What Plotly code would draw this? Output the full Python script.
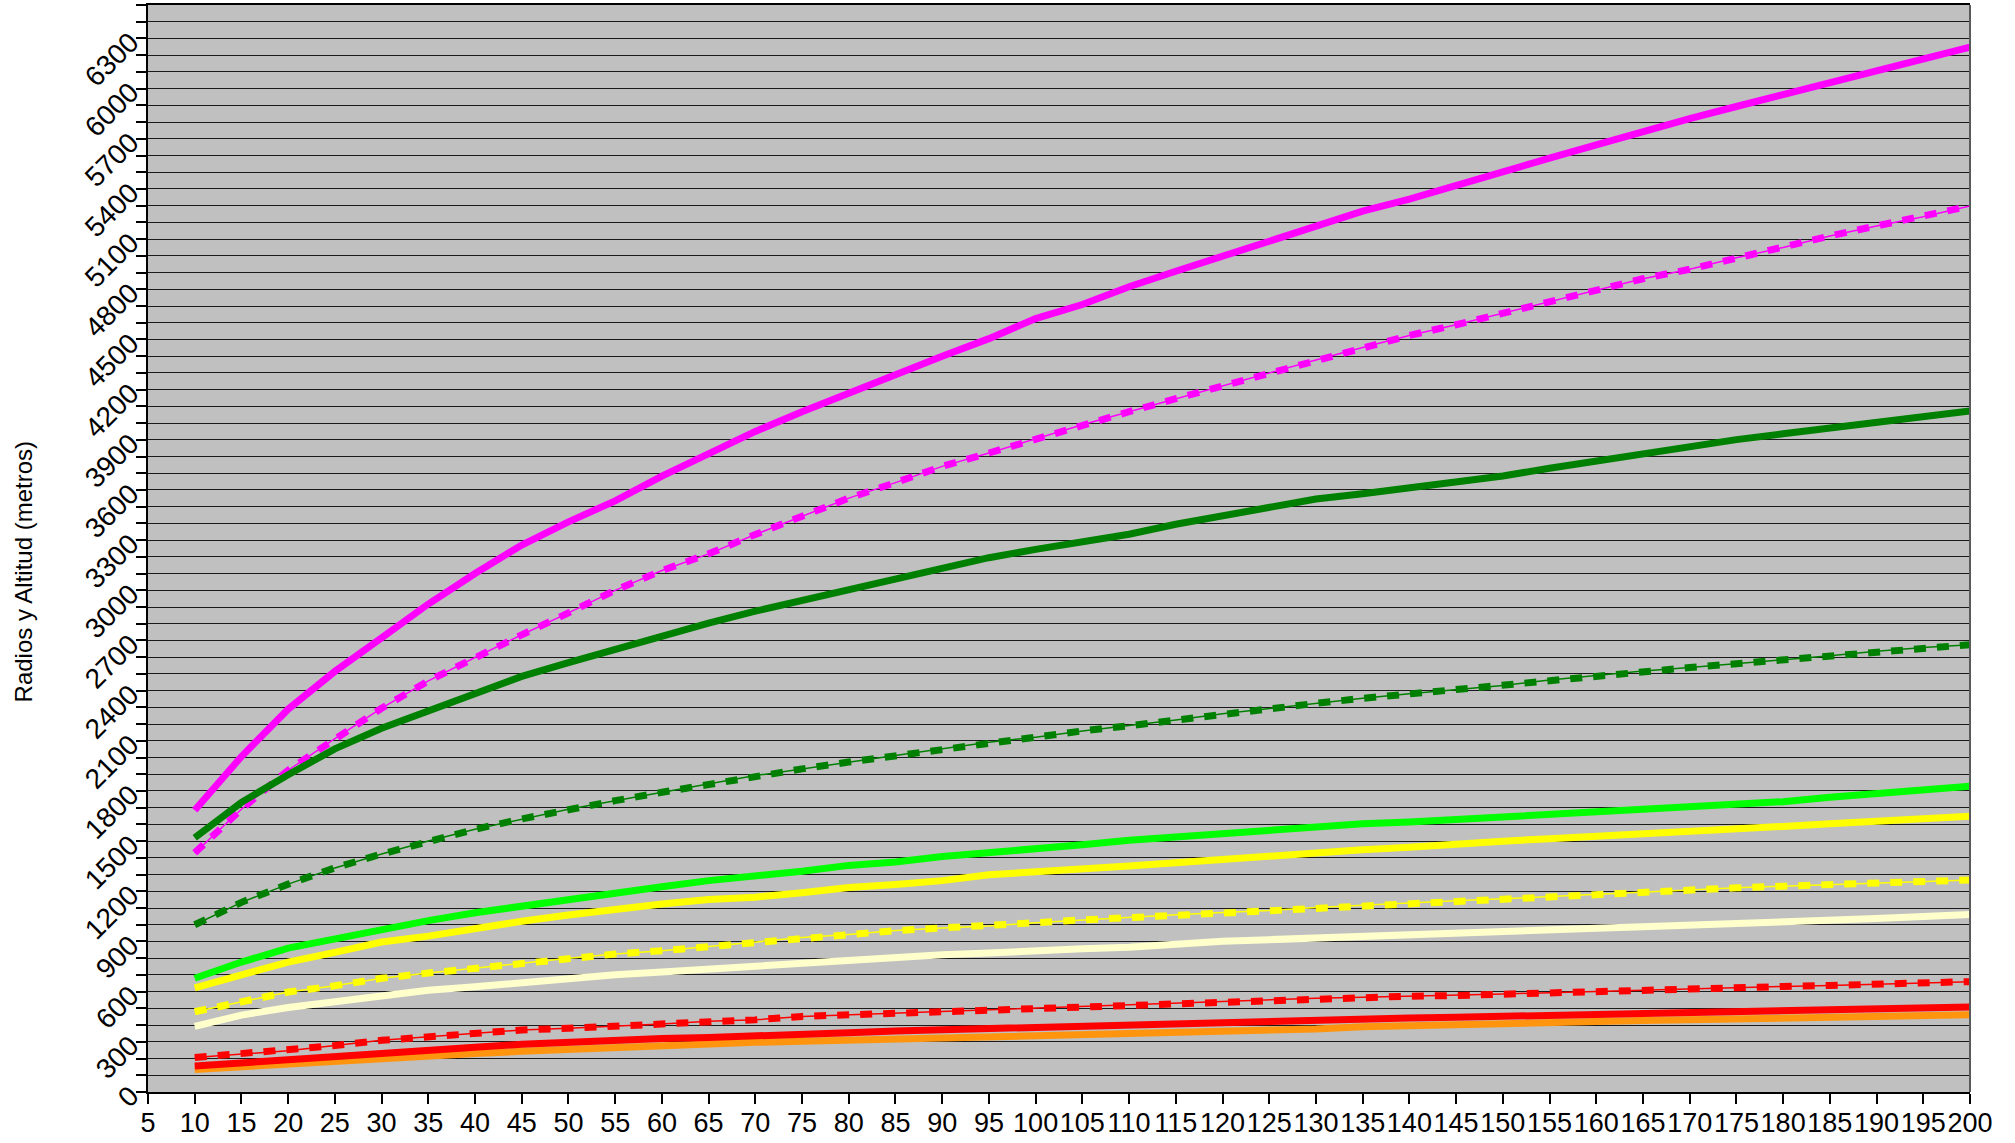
import plotly.graph_objects as go

x_vals = list(range(10, 205, 5))

magenta_solid = [1685, 2006, 2289, 2515, 2715, 2918, 3100, 3271, 3409, 3535, 3683, 3821, 3950, 4068, 4180,
                 4295, 4400, 4505, 4625, 4709, 4815, 4908, 4998, 5089, 5176, 5267, 5339, 5424, 5504, 5584,
                 5664, 5744, 5820, 5893, 5966, 6035, 6104, 6179, 6248]
magenta_dashed = [1430, 1691, 1924, 2113, 2295, 2458, 2598, 2734, 2865, 3000, 3118, 3218, 3334, 3443, 3551,
                  3644, 3741, 3821, 3906, 3990, 4068, 4146, 4222, 4299, 4377, 4452, 4524, 4588, 4656, 4725,
                  4794, 4863, 4920, 4989, 5050, 5119, 5179, 5234, 5298]
dkgreen_solid = [1520, 1732, 1897, 2052, 2175, 2278, 2392, 2485, 2567, 2649, 2722, 2804, 2875, 2940, 3006,
                 3070, 3132, 3195, 3245, 3285, 3335, 3395, 3447, 3500, 3546, 3578, 3610, 3645, 3684, 3730,
                 3775, 3821, 3860, 3901, 3936, 3970, 4004, 4038, 4073]
dkgreen_dashed = [1000, 1134, 1243, 1340, 1423, 1501, 1571, 1633, 1691, 1742, 1792, 1841, 1892, 1932, 1973,
                  2010, 2052, 2091, 2122, 2159, 2190, 2225, 2262, 2293, 2324, 2354, 2381, 2406, 2431, 2464,
                  2491, 2518, 2538, 2561, 2584, 2608, 2635, 2658, 2675]
lime_solid = [680, 777, 860, 918, 975, 1025, 1072, 1113, 1155, 1190, 1227, 1264, 1290, 1320, 1355,
              1375, 1408, 1429, 1454, 1478, 1505, 1526, 1542, 1561, 1581, 1604, 1614, 1629, 1643, 1660,
              1674, 1687, 1701, 1718, 1736, 1763, 1784, 1804, 1829]
yellow_solid = [623, 701, 777, 835, 897, 932, 979, 1021, 1058, 1093, 1124, 1151, 1165, 1192, 1223,
                1241, 1264, 1299, 1313, 1334, 1351, 1371, 1392, 1412, 1433, 1448, 1464, 1485, 1499, 1515,
                1528, 1542, 1557, 1571, 1588, 1604, 1619, 1635, 1649]
yellow_dashed = [480, 540, 598, 635, 680, 711, 742, 773, 800, 825, 845, 870, 899, 924, 942,
                 965, 981, 992, 1012, 1029, 1043, 1060, 1074, 1085, 1103, 1118, 1130, 1144, 1155, 1169,
                 1181, 1196, 1210, 1221, 1231, 1241, 1252, 1260, 1268]
cream_solid = [392, 460, 505, 542, 577, 608, 629, 656, 680, 701, 718, 736, 750, 773, 784,
               804, 821, 831, 839, 856, 866, 887, 901, 911, 922, 932, 942, 953, 963, 971,
               979, 988, 996, 1006, 1016, 1027, 1037, 1049, 1062]
red_dashed = [206, 227, 247, 278, 309, 330, 351, 371, 381, 392, 406, 423, 432, 452, 462,
              472, 480, 489, 501, 509, 520, 530, 540, 551, 561, 567, 573, 577, 586, 594,
              602, 610, 619, 625, 631, 637, 645, 654, 660]
red_solid = [155, 175, 196, 216, 233, 247, 268, 285, 299, 309, 320, 326, 333, 344, 355,
             365, 373, 381, 386, 392, 398, 406, 414, 421, 429, 437, 443, 447, 452, 458,
             464, 472, 480, 485, 489, 495, 499, 505, 509]
orange_solid = [135, 152, 170, 186, 200, 215, 230, 243, 255, 265, 276, 287, 297, 303, 309,
                317, 324, 330, 336, 342, 348, 356, 363, 370, 377, 390, 398, 402, 408, 414,
                421, 427, 431, 435, 439, 445, 449, 456, 462]

y_title = "Radios y Altitud (metros)"

FONT = "Liberation Sans, Arial, sans-serif"

fig = go.Figure()

def solid(y, color):
    fig.add_trace(go.Scatter(x=x_vals, y=y, mode="lines",
                             line=dict(color=color, width=7), hoverinfo="skip"))

def dashed(y, color):
    fig.add_trace(go.Scatter(x=x_vals, y=y, mode="lines",
                             line=dict(color=color, width=1.5), hoverinfo="skip"))
    fig.add_trace(go.Scatter(x=x_vals, y=y, mode="lines",
                             line=dict(color=color, width=7, dash="12px,11px"), hoverinfo="skip"))

solid(orange_solid, "#FF950E")
solid(red_solid, "#FF0000")
dashed(red_dashed, "#FF0000")
solid(cream_solid, "#FFFFCC")
dashed(yellow_dashed, "#FFFF00")
solid(yellow_solid, "#FFFF00")
solid(lime_solid, "#00FF00")
dashed(dkgreen_dashed, "#008000")
dashed(magenta_dashed, "#FF00FF")
solid(dkgreen_solid, "#008000")
solid(magenta_solid, "#FF00FF")

fig.update_layout(
    width=2015, height=1143,
    margin=dict(l=148, r=45, t=5, b=51, pad=0),
    paper_bgcolor="white",
    plot_bgcolor="#C0C0C0",
    showlegend=False,
    hovermode=False,
    font=dict(family=FONT, size=27, color="black"),
)

fig.update_xaxes(
    range=[5, 200], tick0=5, dtick=5, tickmode="linear",
    showgrid=False, zeroline=False, automargin=False,
    showline=True, linecolor="black", linewidth=1.5, mirror=True,
    ticks="outside", ticklen=10, tickcolor="black", tickwidth=1.5,
    tickangle=0, ticklabelstandoff=-4,
    tickfont=dict(family=FONT, size=27, color="black"),
)

fig.update_yaxes(
    range=[0, 6500], tick0=0, dtick=300, tickmode="linear",
    showgrid=True, gridcolor="#1a1a1a", gridwidth=1, zeroline=False, automargin=False,
    showline=True, linecolor="black", linewidth=1.5,
    ticks="outside", ticklen=10, tickcolor="black", tickwidth=1.5,
    tickangle=-45,
    tickfont=dict(family=FONT, size=28, color="black"),
    minor=dict(dtick=100, tick0=0, showgrid=True, gridcolor="#1a1a1a", gridwidth=1,
               ticks="outside", ticklen=10, tickcolor="black", tickwidth=1.5),
)

fig.add_annotation(text=y_title, xref="paper", yref="paper", x=-0.0686, y=0.478,
                   xanchor="center", yanchor="middle", textangle=-90, showarrow=False,
                   font=dict(family=FONT, size=24, color="black"))

fig.add_shape(type="line", xref="paper", yref="paper", x0=1, x1=1, y0=0, y1=1,
              line=dict(color="#5a5a5a", width=2))

fig.write_html("out.html", config={"displayModeBar": False},
               post_script="document.body.style.margin='0px';document.body.style.overflow='hidden';")
